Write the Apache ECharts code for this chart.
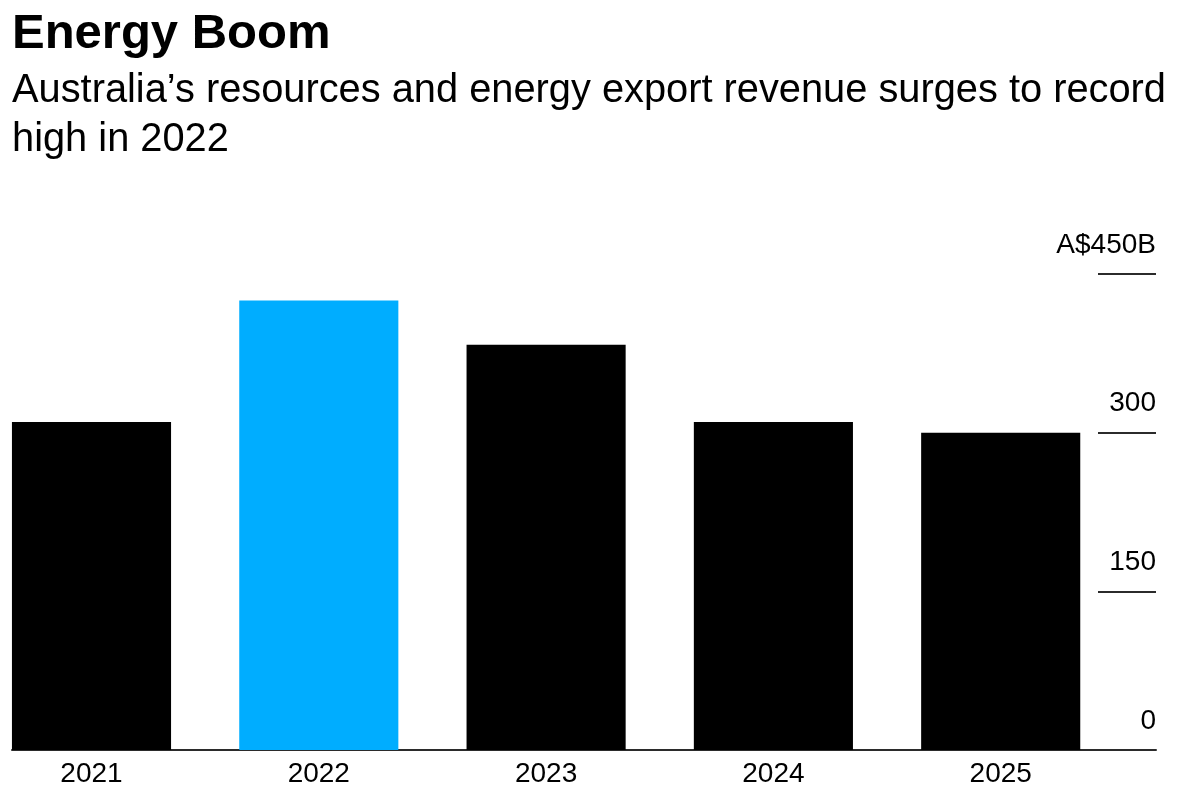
<!DOCTYPE html>
<html>
<head>
<meta charset="utf-8">
<script src="https://cdn.jsdelivr.net/npm/echarts@6/dist/echarts.min.js"></script>
<style>
  html, body { margin: 0; padding: 0; background: #fff; }
  #chart { width: 1199px; height: 807px; }
</style>
</head>
<body>
<div id="chart"></div>
<script>
const titleText = 'Energy Boom';
const subtitleText = 'Australia\u2019s resources and energy export revenue surges to record\nhigh in 2022';
const categories = ['2021', '2022', '2023', '2024', '2025'];
const revenue = [310, 425, 383, 310, 300];
const highlightCategory = '2022';
const yTicks = [0, 150, 300, 450];
const yMax = 450;
const yInterval = 150;

const FONT = '"Liberation Sans", Arial, Helvetica, sans-serif';
const BLACK = '#000000';
const BLUE = '#00adff';
const LINE = '#2b2b2b';

const chart = echarts.init(document.getElementById('chart'), null, { renderer: 'canvas' });

const grids = [
  { left: 91.5, right: 198.3, top: 274, bottom: 57 },
  { left: 12, right: 43, top: 274, bottom: 57 },
  { left: 1098, right: 43, top: 274, bottom: 57 }
];

const option = {
  animation: false,
  backgroundColor: '#ffffff',
  title: [
    {
      text: titleText,
      left: 7, top: 5,
      textStyle: { fontFamily: FONT, fontSize: 49, fontWeight: 'bold', color: '#000' }
    },
    {
      text: subtitleText,
      left: 7, top: 62,
      textStyle: { fontFamily: FONT, fontSize: 39.8, fontWeight: 'normal', color: '#000', lineHeight: 49 }
    }
  ],
  grid: grids,
  xAxis: [
    {
      gridIndex: 0, type: 'category', data: categories, boundaryGap: false,
      axisLine: { show: false }, axisTick: { show: false }, splitLine: { show: false },
      axisLabel: { fontFamily: FONT, fontSize: 28, color: '#000', margin: 10 }
    },
    {
      gridIndex: 1, type: 'value', min: 0, max: 1,
      axisLine: { show: true, lineStyle: { color: LINE, width: 2 } },
      axisTick: { show: false }, axisLabel: { show: false }, splitLine: { show: false }
    },
    {
      gridIndex: 2, type: 'value', min: 0, max: 1, show: false
    }
  ],
  yAxis: [
    { gridIndex: 0, type: 'value', min: 0, max: yMax, show: false },
    { gridIndex: 1, type: 'value', min: 0, max: yMax, show: false },
    {
      gridIndex: 2, type: 'value', min: 0, max: yMax, interval: yInterval, position: 'right',
      axisLine: { show: false }, axisTick: { show: false },
      splitLine: { show: true, lineStyle: { color: LINE, width: 2 } },
      axisLabel: {
        inside: true, margin: 0, fontFamily: FONT, fontSize: 28, color: '#000',
        verticalAlign: 'bottom', align: 'right', padding: [0, 0, 15, 0],
        formatter: function (v) {
          return v === yTicks[yTicks.length - 1] ? 'A$' + v + 'B' : String(v);
        }
      }
    }
  ],
  series: [
    {
      type: 'bar', xAxisIndex: 0, yAxisIndex: 0,
      barWidth: '70%',
      clip: false,
      data: revenue.map(function (v, i) {
        return { value: v, itemStyle: { color: categories[i] === highlightCategory ? BLUE : BLACK } };
      }),
      z: 2
    }
  ]
};

chart.setOption(option);
</script>
</body>
</html>
